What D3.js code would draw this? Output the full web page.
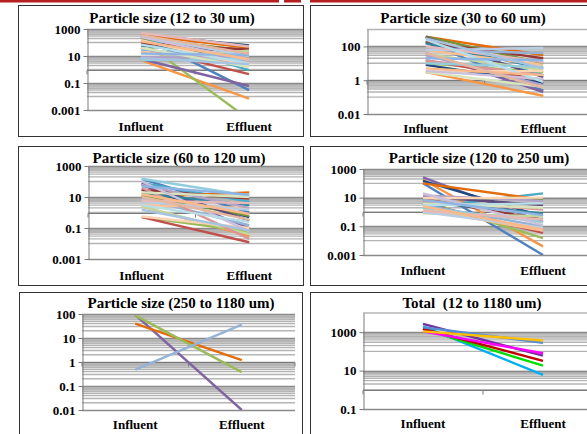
<!DOCTYPE html>
<html>
<head>
<meta charset="utf-8">
<title>Particle size</title>
<script src="https://d3js.org/d3.v7.min.js"></script>
<style>
  body{margin:0;background:#fff;}
  .title{font:bold 15px "Times New Roman","Liberation Serif",serif;text-anchor:middle;white-space:pre;}
  .cat{font:bold 13px "Times New Roman","Liberation Serif",serif;text-anchor:middle;}
  .tick text{font:bold 13px "Times New Roman","Liberation Serif",serif;fill:#000;}
</style>
</head>
<body>
<script>
var categories = ["Influent","Effluent"];

// 12 to 30 um
var inf1 = [300,5,150,6,40,250,400,350,200,100,80,60,30,20,7,8,6,5,300,150,40,250,500,70,15,120,7,350];
var eff1 = [0.03,0.007,0.0002,0.06,0.45,0.9,60,40,25,15,30,8,5,3,25,10,4,6,10,2,1.5,5,50,3,12,6,2.5,15];
var ticks1 = [0.001,0.1,10,1000];

// 30 to 60 um
var inf2 = [180,3,10,40,15,200,8,380,380,350,180,150,60,60,35,30,15,10,60,3.3,3,3.5,100,250,20,5,300,40];
var eff2 = [0.25,0.12,3,0.2,1,2,0.7,30,10,1.5,20,5,40,8,4,0.5,2,6,80,3.5,0.4,1.2,12,0.8,15,2,5,0.35];
var ticks2 = [0.01,1,100];

// 60 to 120 um
var inf3 = [150,2.5,0.5,60,0.5,80,30,10,12,75,28,17,8,3,2.5,60,40,150,5,0.55,20,100,6,3,50,15,1.5,10];
var eff3 = [1,0.03,0.06,0.1,0.012,5,0.5,20,0.6,0.3,8,3,0.15,2,0.04,2,0.02,12,1.5,0.1,10,0.06,4,0.25,14,0.8,0.07,0.35];
var ticks3 = [0.001,0.1,10,1000];

// 120 to 250 um
var inf4 = [100,180,6,260,4,2,150,100,10,12,8,5,3,1.5,0.8,14,6,2,1,9,4,20,1.2,3,7,2.5];
var eff4 = [0.001,0.004,0.015,0.2,0.035,20,0.5,7,8,3,0.3,0.8,0.1,0.05,0.5,6,1.5,0.2,0.08,10,2,0.12,0.3,4,0.6,0.06];
var ticks4 = [0.001,0.1,10,1000];

// 250 to 1180 um
var inf5 = [93,40,88,0.48];
var eff5 = [0.01,1.2,0.38,36];
var ticks5 = [0.01,0.1,1,10,100];

// total
var inf6 = [2700,2000,1500,1500,1100,1800,1100];
var eff6 = [60,6,18,32,80,280,370];
var ticks6 = [0.1,10,1000];

var palette = ["#4F81BD","#F79646","#9BBB59","#8064A2","#C0504D","#4BACC6",
  "#1F497D","#E46C0A","#77933C","#604A7B","#953735","#31859C",
  "#95B3D7","#FAC090","#C3D69B","#B3A2C7","#D99694","#93CDDD",
  "#B9CDE5","#FCD5B5","#D7E4BD","#CCC1DA","#E6B9B8","#B7DEE8",
  "#8EB4E3","#F9B98B","#A6C4E2","#E4B7A0"];
var colors5 = ["#8064A2","#E46C0A","#9BBB59","#95B3D7"];
var colors6 = ["#7030A0","#00B0F0","#00E000","#C00000","#FF00FF","#558ED5","#FFC000"];

var panels = [
  {title:"Particle size (12 to 30 um)", inf:inf1, eff:eff1, ticks:ticks1, domain:[0.001,1000], base:100, colors:palette,
   box:[18,5,285,131], l:87, r:303, t:29, b:110, tx:172, ty:23, cy:131},
  {title:"Particle size (30 to 60 um)", inf:inf2, eff:eff2, ticks:ticks2, domain:[0.01,1000], base:100, colors:palette,
   box:[310,5,290,131], l:367, r:602, t:29.5, b:114, tx:463, ty:23, cy:133},
  {title:"Particle size (60 to 120 um)", inf:inf3, eff:eff3, ticks:ticks3, domain:[0.001,1000], base:100, colors:palette,
   box:[18,146,285,139], l:88, r:303, t:166, b:259, tx:179, ty:163, cy:280},
  {title:"Particle size (120 to 250 um)", inf:inf4, eff:eff4, ticks:ticks4, domain:[0.001,1000], base:100, colors:palette,
   box:[310,146,290,139], l:363, r:603, t:169, b:255, tx:479, ty:163, cy:275},
  {title:"Particle size (250 to 1180 um)", inf:inf5, eff:eff5, ticks:ticks5, domain:[0.01,100], base:10, colors:colors5,
   box:[19,292,283,150], l:82, r:295, t:314, b:410, tx:181, ty:308, cy:429},
  {title:"Total  (12 to 1180 um)", inf:inf6, eff:eff6, ticks:ticks6, domain:[0.1,10000], base:100, colors:colors6,
   box:[310,292,290,150], l:363, r:603, t:313, b:409, tx:472, ty:308, cy:428}
];

var svg = d3.select("body").append("svg").attr("width",587).attr("height",434);

// red strip along the top
svg.selectAll(".strip").data([[0,279],[284,301],[310,587]]).enter().append("rect")
  .attr("x",function(d){return d[0];}).attr("y",0)
  .attr("width",function(d){return d[1]-d[0];}).attr("height",2.5)
  .attr("fill","#B51F1F");

panels.forEach(function(p,pi){
  var g = svg.append("g");
  g.append("rect").attr("x",p.box[0]+0.5).attr("y",p.box[1]+0.5).attr("width",p.box[2]).attr("height",p.box[3])
    .attr("fill","#fff").attr("stroke","#333").attr("stroke-width",1);

  var x = d3.scalePoint().domain(categories).range([p.l,p.r]).padding(0.5);
  var xb = d3.scaleBand().domain(categories).range([p.l,p.r]);
  var y = d3.scaleLog().domain(p.domain).range([p.b,p.t]);

  // gridlines
  var minors = [];
  p.ticks.forEach(function(m){
    if(p.base==100){ for(var k=1;k<=9;k++) minors.push(m*10*k); }
    else { for(var k=2;k<=9;k++) minors.push(m*k); }
  });
  minors = minors.filter(function(v){return v<=p.domain[1]*1.0001;});
  g.selectAll(".minor").data(minors).enter().append("line")
    .attr("x1",p.l).attr("x2",p.r)
    .attr("y1",function(d){return y(d);}).attr("y2",function(d){return y(d);})
    .attr("stroke","#b4b4b4").attr("stroke-width",1.4);
  g.selectAll(".major").data(p.ticks).enter().append("line")
    .attr("x1",p.l).attr("x2",p.r)
    .attr("y1",function(d){return Math.round(y(d))+0.5;}).attr("y2",function(d){return Math.round(y(d))+0.5;})
    .attr("stroke","#8a8a8a").attr("stroke-width",1.5);

  // category axis crosses at 1
  var y1 = Math.round(y(1))+0.5;
  g.append("line").attr("x1",p.l).attr("x2",p.r).attr("y1",y1).attr("y2",y1)
    .attr("stroke","#7a7a7a").attr("stroke-width",1.2);
  g.selectAll(".ctick").data(d3.range(categories.length+1)).enter().append("line")
    .attr("x1",function(i){return p.l+i*xb.step();}).attr("x2",function(i){return p.l+i*xb.step();})
    .attr("y1",y1).attr("y2",y1+4).attr("stroke","#7a7a7a");

  // value axis
  var ax = g.append("g").attr("transform","translate("+(p.l+0.5)+",0)")
    .call(d3.axisLeft(y).tickValues(p.ticks).tickFormat(d3.format("~g")).tickSizeInner(4).tickSizeOuter(0).tickPadding(3));
  ax.select(".domain").attr("stroke","#7a7a7a");
  ax.selectAll(".tick line").attr("stroke","#7a7a7a");

  // series
  g.append("clipPath").attr("id","clip"+pi).append("rect")
    .attr("x",p.l).attr("y",p.t).attr("width",p.r-p.l).attr("height",p.b-p.t);
  var series = p.inf.map(function(v,i){return [v,p.eff[i]];});
  var line = d3.line().x(function(d,i){return x(categories[i]);}).y(function(d){return y(d);});
  g.append("g").attr("clip-path","url(#clip"+pi+")")
    .selectAll("path").data(series).enter().append("path")
    .attr("d",line).attr("fill","none")
    .attr("stroke",function(d,i){return p.colors[i%p.colors.length];})
    .attr("stroke-width",2.4).attr("stroke-linecap","butt");

  // labels
  g.selectAll(".cat").data(categories).enter().append("text").attr("class","cat")
    .attr("x",function(d){return x(d);}).attr("y",p.cy).text(function(d){return d;});
  g.append("text").attr("class","title").attr("x",p.tx).attr("y",p.ty).text(p.title);
});
</script>
</body>
</html>
